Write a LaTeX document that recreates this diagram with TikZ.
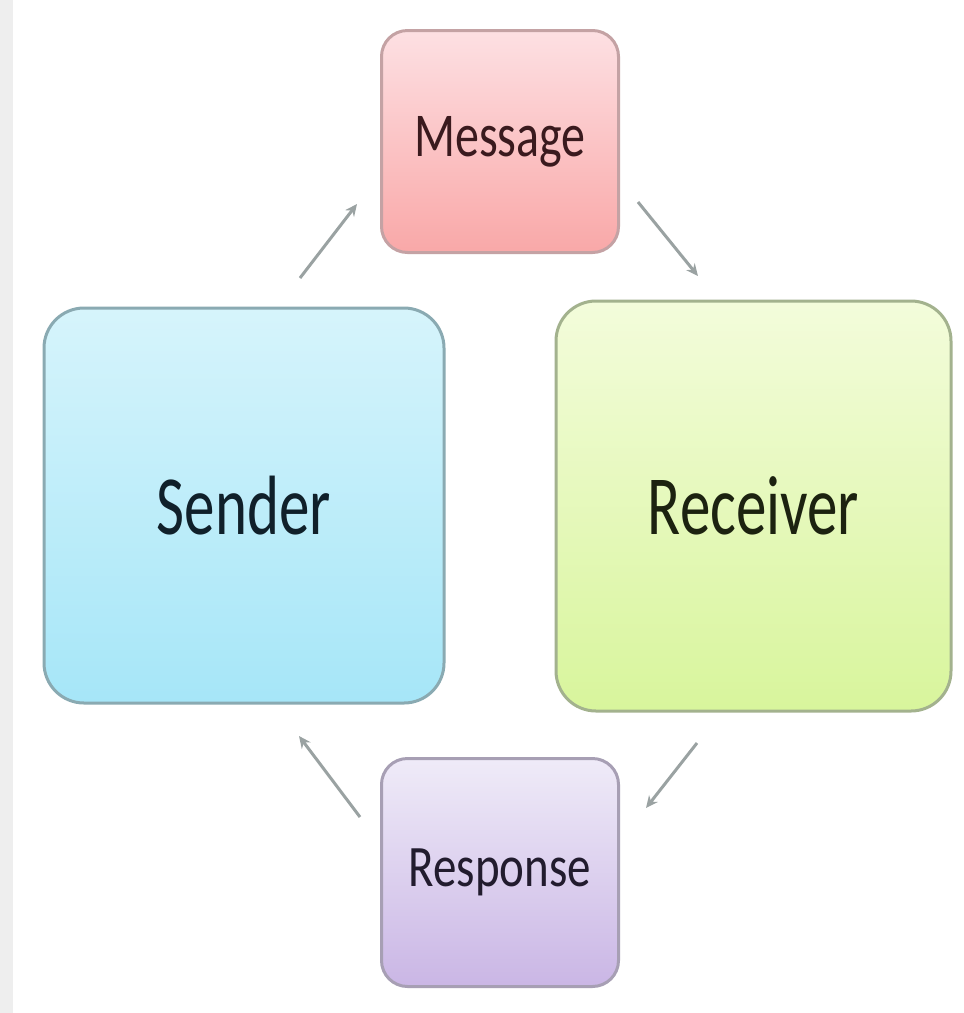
\documentclass[tikz,border=0pt]{standalone}
\usepackage{fontspec}
\setmainfont{Carlito}
\usetikzlibrary{arrows.meta}
\definecolor{msgtop}{HTML}{FDE0E3}
\definecolor{msgbot}{HTML}{F9A8A8}
\definecolor{msgline}{HTML}{C4A2A4}
\definecolor{msgtext}{HTML}{3A1A1E}
\definecolor{sndtop}{HTML}{D6F4FB}
\definecolor{sndbot}{HTML}{A6E6F8}
\definecolor{sndline}{HTML}{8AAAB2}
\definecolor{sndtext}{HTML}{10202A}
\definecolor{rcvtop}{HTML}{F3FCDB}
\definecolor{rcvbot}{HTML}{D8F59C}
\definecolor{rcvline}{HTML}{A3B28E}
\definecolor{rcvtext}{HTML}{1C2210}
\definecolor{rsptop}{HTML}{EFEBF8}
\definecolor{rspbot}{HTML}{CAB6E5}
\definecolor{rspline}{HTML}{A79FB4}
\definecolor{rsptext}{HTML}{221C2E}
\definecolor{arrowgray}{HTML}{9AA2A2}
\definecolor{strip}{HTML}{EEEEEE}
\begin{document}
\begin{tikzpicture}[x=1pt,y=-1pt,
  box/.style={draw, line width=3pt, inner sep=0pt, anchor=center},
  small/.style={box, rounded corners=26pt, minimum width=237pt, minimum height=226pt},
  big/.style={box, rounded corners=40pt},
  flow/.style={draw=arrowgray, line width=3pt, -{Stealth[length=12pt,width=11pt]}}]
\useasboundingbox (0,0) rectangle (964,1013);
\fill[white] (0,0) rectangle (964,1013);
\fill[strip] (0,0) rectangle (13,1013);
\node[small, draw=msgline, top color=msgtop, bottom color=msgbot, minimum height=222pt,
  text=msgtext] (message) at (500,141.5)
  {\scalebox{1}[1.3]{\fontsize{48pt}{50pt}\selectfont Message}};
\node[small, draw=rspline, top color=rsptop, bottom color=rspbot, minimum height=228pt,
  text=rsptext] (response) at (500,872.5)
  {\scalebox{1}[1.25]{\fontsize{47pt}{50pt}\selectfont Response}};
\node[big, draw=sndline, top color=sndtop, bottom color=sndbot, minimum width=400pt, minimum height=395pt,
  text=sndtext] (sender) at (244,505.5)
  {\scalebox{1}[1.38]{\fontsize{61pt}{64pt}\selectfont Sender}};
\node[big, draw=rcvline, top color=rcvtop, bottom color=rcvbot, minimum width=395pt, minimum height=410pt,
  text=rcvtext] (receiver) at (753.5,506)
  {\scalebox{1}[1.38]{\fontsize{61pt}{64pt}\selectfont Receiver}};
\coordinate (a1) at (300,278);
\coordinate (a2) at (357,204);
\coordinate (b1) at (638,202);
\coordinate (b2) at (698,276);
\coordinate (c1) at (697,743);
\coordinate (c2) at (646,808);
\coordinate (d1) at (360,817);
\coordinate (d2) at (299,736);
\draw[flow] (a1) -- (a2);
\draw[flow] (b1) -- (b2);
\draw[flow] (c1) -- (c2);
\draw[flow] (d1) -- (d2);
\end{tikzpicture}
\end{document}
